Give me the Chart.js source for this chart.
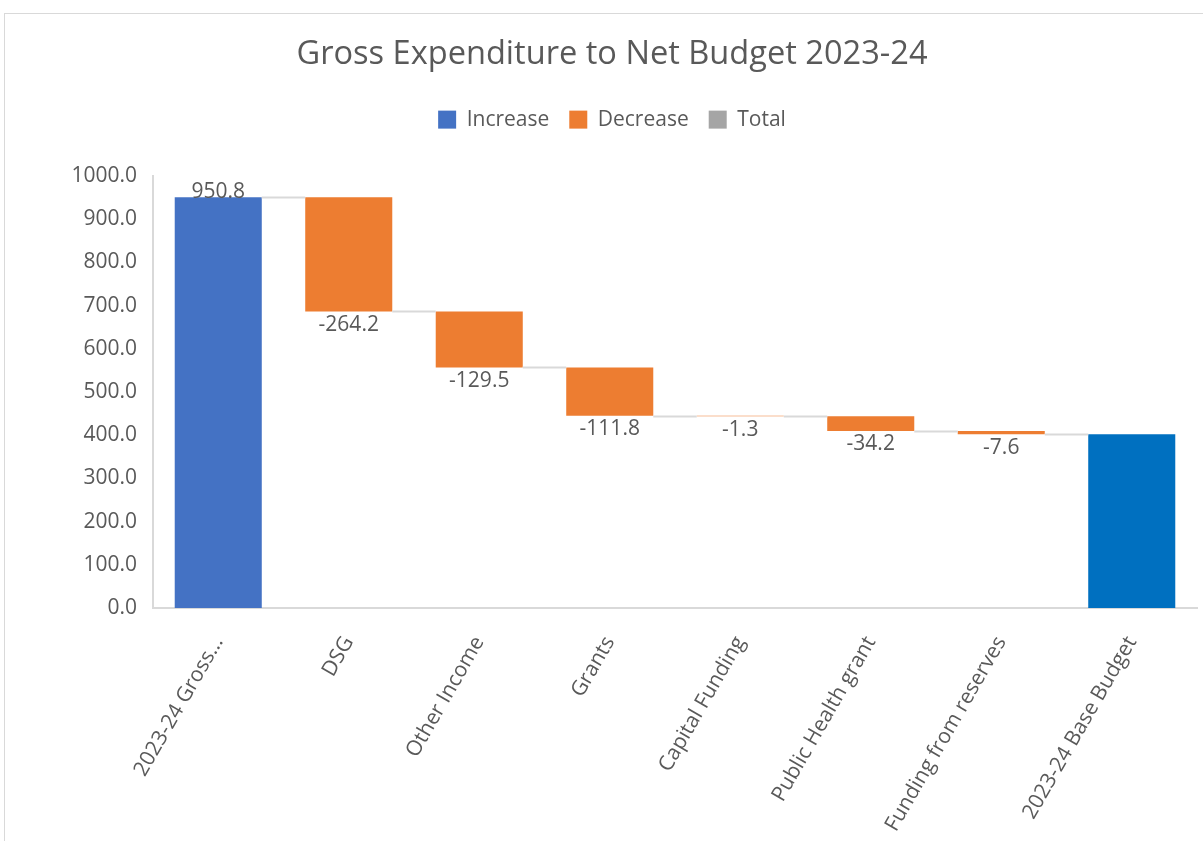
<!DOCTYPE html>
<html>
<head>
<meta charset="utf-8">
<script src="https://cdn.jsdelivr.net/npm/chart.js@4.4.0/dist/chart.umd.min.js"></script>
<style>
  body { margin: 0; background: #fff; }
  #wrap { position: relative; width: 1203px; height: 841px; }
  #frame { position: absolute; left: 4px; top: 13px; right: -2px; bottom: -2px; border: 1px solid #d9d9d9; }
  canvas { position: absolute; left: 0; top: 0; }
</style>
</head>
<body>
<div id="wrap">
  <div id="frame"></div>
  <canvas id="waterfall" width="1203" height="841"></canvas>
</div>
<script>
// datos del grafico
const categories = [
  "2023-24 Gross...",
  "DSG",
  "Other Income",
  "Grants",
  "Capital Funding",
  "Public Health grant",
  "Funding from reserves",
  "2023-24 Base Budget",
];
const changes = [950.8, -264.2, -129.5, -111.8, -1.3, -34.2, -7.6];
const baseBudget = 402.2;
const yTicks = [0, 100, 200, 300, 400, 500, 600, 700, 800, 900, 1000];

const colorIncrease = "#4472C4";
const colorDecrease = "#ED7D31";
const colorTotal = "#A5A5A5";
const colorTotalBar = "#0070C0";
const textColor = "#595959";
const fontName = "'Open Sans', sans-serif";

// barras flotantes: [inicio, fin]
const floating = [];
const colors = [];
let running = 0;
changes.forEach((v) => {
  floating.push([running, running + v]);
  running += v;
  colors.push(v >= 0 ? colorIncrease : colorDecrease);
});
floating.push([0, baseBudget]);
colors.push(colorTotalBar);

const connectorPlugin = {
  id: "connectors",
  afterDatasetsDraw(chart) {
    const ctx = chart.ctx;
    const meta = chart.getDatasetMeta(0);
    const y = chart.scales.y;
    ctx.save();
    ctx.strokeStyle = "#d9d9d9";
    ctx.lineWidth = 2;
    for (let i = 0; i < meta.data.length - 1; i++) {
      const a = meta.data[i];
      const b = meta.data[i + 1];
      const level = floating[i][1];
      const py = Math.round(y.getPixelForValue(level)) + 0.5;
      ctx.beginPath();
      ctx.moveTo(a.x + a.width / 2, py);
      ctx.lineTo(b.x - b.width / 2, py);
      ctx.stroke();
    }
    ctx.restore();
  },
};

const labelPlugin = {
  id: "barLabels",
  afterDatasetsDraw(chart) {
    const ctx = chart.ctx;
    const meta = chart.getDatasetMeta(0);
    ctx.save();
    ctx.fillStyle = textColor;
    ctx.font = "21px " + fontName;
    ctx.textAlign = "center";
    changes.forEach((v, i) => {
      const el = meta.data[i];
      const top = Math.min(el.y, el.base);
      const bottom = Math.max(el.y, el.base);
      if (v >= 0) {
        ctx.textBaseline = "bottom";
        ctx.fillText(v.toFixed(1), el.x, top + 5);
      } else {
        ctx.textBaseline = "top";
        ctx.fillText(v.toFixed(1), el.x, bottom + 3);
      }
    });
    ctx.restore();
  },
};

const ctx = document.getElementById("waterfall").getContext("2d");
const chart = new Chart(ctx, {
  type: "bar",
  data: {
    labels: categories,
    datasets: [
      {
        data: floating,
        backgroundColor: colors,
        borderWidth: 0,
        barPercentage: 0.667,
        categoryPercentage: 1,
      },
    ],
  },
  options: {
    responsive: false,
    animation: false,
    layout: { padding: { left: 27, right: 6, top: 35, bottom: 0 } },
    plugins: {
      title: {
        display: true,
        text: "Gross Expenditure to Net Budget 2023-24",
        color: textColor,
        font: { family: fontName, size: 32.6, weight: "normal" },
        padding: { top: 0, bottom: 15 },
      },
      // espacio vacio entre leyenda y grafico
      subtitle: {
        display: true,
        text: "",
        weight: 500,
        font: { size: 10 },
        padding: { top: 24, bottom: 0 },
      },
      legend: {
        display: true,
        labels: {
          color: textColor,
          font: { family: fontName, size: 21 },
          boxWidth: 18,
          boxHeight: 18,
          padding: 20,
          generateLabels: () => [
            { text: "Increase", fillStyle: colorIncrease, strokeStyle: colorIncrease, lineWidth: 0, fontColor: textColor },
            { text: "Decrease", fillStyle: colorDecrease, strokeStyle: colorDecrease, lineWidth: 0, fontColor: textColor },
            { text: "Total", fillStyle: colorTotal, strokeStyle: colorTotal, lineWidth: 0, fontColor: textColor },
          ],
        },
        onClick: () => {},
      },
      tooltip: { enabled: false },
    },
    scales: {
      x: {
        grid: { display: false },
        border: { display: true, color: "#d9d9d9", width: 2 },
        ticks: {
          color: textColor,
          font: { family: fontName, size: 21 },
          minRotation: 60,
          maxRotation: 60,
          autoSkip: false,
          padding: 16,
        },
        afterFit: (scale) => {
          scale.height = 233;
        },
      },
      y: {
        min: 0,
        max: 1000,
        grid: { display: false },
        border: { display: true, color: "#d9d9d9", width: 2 },
        afterBuildTicks: (scale) => {
          scale.ticks = yTicks.map((v) => ({ value: v }));
        },
        ticks: {
          color: textColor,
          font: { family: fontName, size: 21 },
          padding: 8,
          callback: (v) => Number(v).toFixed(1),
        },
        afterFit: (scale) => {
          scale.width = 126;
        },
      },
    },
  },
  plugins: [connectorPlugin, labelPlugin],
});
</script>
</body>
</html>
